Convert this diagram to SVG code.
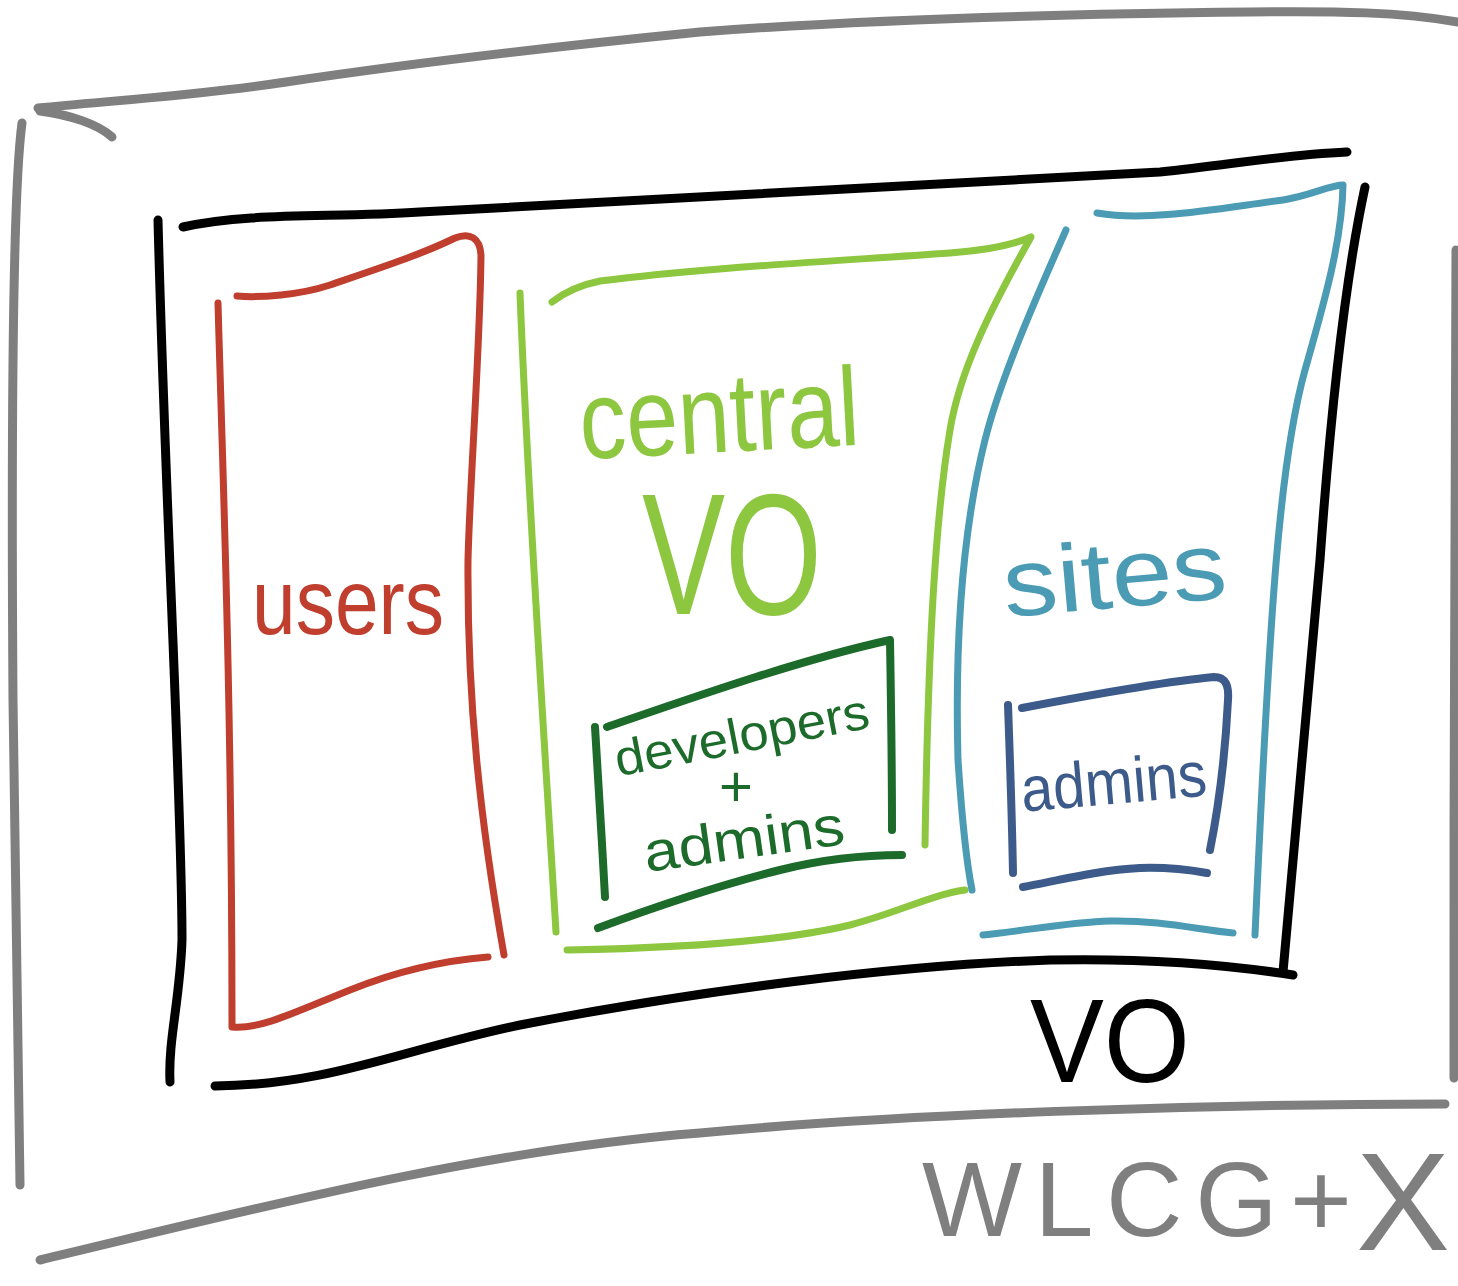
<svg xmlns="http://www.w3.org/2000/svg" width="1458" height="1286" viewBox="0 0 1458 1286">
  <style>
    .ink { fill: none; stroke-linecap: round; stroke-linejoin: round; }
    .gray { stroke: #7f7f7f; stroke-width: 9; }
    .black { stroke: #000000; stroke-width: 9; }
    .red { stroke: #bf3e2e; stroke-width: 7; }
    .lime { stroke: #8dc63f; stroke-width: 7; }
    .dgreen { stroke: #1d6b2b; stroke-width: 8; }
    .teal { stroke: #4a9bb3; stroke-width: 7; }
    .navy { stroke: #3d5b8a; stroke-width: 8; }
    .label { font-family: "Liberation Sans", "DejaVu Sans", sans-serif; }
  </style>
  <rect width="1458" height="1286" fill="#ffffff"/>

  <!-- outer WLCG+X frame -->
  <g id="wlcg-frame">
    <path class="ink gray" d="M38,108 C 120,100 200,95 286,82 C 420,62 560,46 700,32 C 860,20 1050,14 1250,12 C 1340,11 1400,12 1458,22"/>
    <path class="ink gray" d="M40,111 C 70,115 98,124 112,137"/>
    <path class="ink gray" d="M22,123 C 13,190 11,400 13,700 C 15,900 18,1050 20,1185"/>
    <path class="ink gray" d="M40,1260 C 250,1210 480,1150 700,1133 C 900,1114 1200,1104 1445,1104"/>
    <path class="ink gray" d="M1456,250 C 1454,500 1454,800 1454,1078"/>
    <g class="label" fill="#7f7f7f">
      <text x="922" y="1236" font-size="106" textLength="430" lengthAdjust="spacing">WLCG+</text>
      <text x="1356" y="1250" font-size="140" textLength="94" lengthAdjust="spacingAndGlyphs">X</text>
    </g>
  </g>

  <!-- VO box -->
  <g id="vo-box">
    <path class="ink black" stroke-width="10" d="M183,227 C 250,212 330,218 420,212 L 1160,172 C 1230,165 1280,155 1347,152"/>
    <path class="ink black" stroke-width="7" d="M158,220 C 165,500 182,800 182,940 C 180,1000 168,1040 170,1082"/>
    <path class="ink black" stroke-width="10" d="M215,1086 C 330,1085 400,1050 520,1025 C 700,990 900,965 1050,960 C 1150,958 1230,965 1293,975"/>
    <path class="ink black" stroke-width="8" d="M1365,187 C 1345,280 1330,420 1320,560 L 1283,972"/>
    <text class="label" x="1030" y="1082" font-size="118" fill="#000000" textLength="160" lengthAdjust="spacingAndGlyphs">VO</text>
  </g>

  <!-- users -->
  <g id="users">
    <path class="ink red" d="M237,296 C 260,298 300,295 330,285 C 380,268 420,255 455,238 C 470,232 480,238 481,255 C 480,350 470,480 468,560 C 467,700 480,820 504,955"/>
    <path class="ink red" d="M218,303 C 222,450 232,700 232,1027 C 260,1030 300,1010 350,990 C 400,970 450,960 488,957"/>
    <text class="label" x="252" y="634" font-size="92" fill="#bf3e2e" textLength="192" lengthAdjust="spacingAndGlyphs">users</text>
  </g>

  <!-- central VO -->
  <g id="central-vo">
    <path class="ink lime" d="M520,293 C 528,500 545,750 556,932"/>
    <path class="ink lime" d="M552,302 C 565,292 580,285 600,281 C 700,268 820,262 950,253 C 990,250 1015,244 1031,237 C 990,310 960,370 950,430 C 935,520 928,650 925,845"/>
    <path class="ink lime" d="M567,950 C 680,948 780,942 850,925 C 900,912 930,895 965,890"/>
    <text class="label" x="580" y="452" font-size="112" fill="#8dc63f" textLength="280" lengthAdjust="spacingAndGlyphs" transform="rotate(-3 720 430)">central</text>
    <text class="label" x="642" y="614" font-size="172" fill="#8dc63f" textLength="180" lengthAdjust="spacingAndGlyphs">VO</text>
  </g>

  <!-- developers + admins -->
  <g id="dev-admins">
    <path class="ink dgreen" d="M595,727 C 598,780 602,840 605,897"/>
    <path class="ink dgreen" d="M607,727 C 700,695 800,660 890,640 C 891,700 892,770 892,830"/>
    <path class="ink dgreen" d="M902,855 C 860,855 820,860 780,870 C 720,885 660,905 598,928"/>
    <g class="label" fill="#1d6b2b">
      <text x="616" y="752" font-size="50" textLength="258" lengthAdjust="spacingAndGlyphs" transform="rotate(-11 745 752)">developers</text>
      <text x="719" y="806" font-size="58">+</text>
      <text x="643" y="858" font-size="56" textLength="202" lengthAdjust="spacingAndGlyphs" transform="rotate(-8 745 840)">admins</text>
    </g>
  </g>

  <!-- sites -->
  <g id="sites">
    <path class="ink teal" d="M1066,230 C 1035,300 1000,380 985,440 C 960,540 955,650 958,760 C 962,820 966,860 972,890"/>
    <path class="ink teal" d="M1097,213 C 1150,222 1220,208 1283,200 C 1310,196 1330,185 1343,185 C 1342,240 1325,300 1305,370 C 1280,460 1270,600 1255,935"/>
    <path class="ink teal" d="M983,935 C 1030,930 1070,922 1110,921 C 1160,920 1200,930 1233,933"/>
    <text class="label" x="1002" y="608" font-size="96" fill="#4a9bb3" textLength="224" lengthAdjust="spacingAndGlyphs" transform="rotate(-5 1110 570)">sites</text>
  </g>

  <!-- site admins -->
  <g id="site-admins">
    <path class="ink navy" d="M1008,705 C 1010,760 1012,820 1013,873"/>
    <path class="ink navy" d="M1022,708 C 1090,695 1160,682 1214,677 C 1226,677 1229,686 1228,700 C 1225,760 1218,810 1210,850"/>
    <path class="ink navy" d="M1023,887 C 1060,880 1100,870 1140,868 C 1170,867 1190,870 1207,873"/>
    <text class="label" x="1020" y="804" font-size="64" fill="#3d5b8a" textLength="186" lengthAdjust="spacingAndGlyphs" transform="rotate(-5 1110 775)">admins</text>
  </g>
</svg>
